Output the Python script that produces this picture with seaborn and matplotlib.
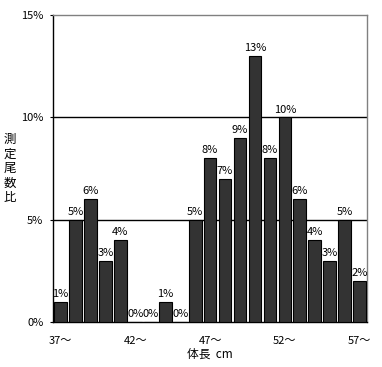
import numpy as np
import pandas as pd
import matplotlib
matplotlib.use("Agg")
import matplotlib.pyplot as plt
import seaborn as sns

sizes = [str(s) for s in range(37, 58)]
ratios = [1, 5, 6, 3, 4, 0, 0, 1, 0, 5, 8, 7, 9, 13, 8, 10, 6, 4, 3, 5, 2]
tick_labels = ["37～", "42～", "47～", "52～", "57～"]
y_ticks = [0, 5, 10, 15]

df = pd.DataFrame({"size": sizes, "ratio": ratios})

sns.set_style("white")
plt.rcParams['font.family'] = ['Noto Sans CJK JP', 'DejaVu Sans']
plt.rcParams['text.color'] = 'black'
plt.rcParams['axes.labelcolor'] = 'black'
plt.rcParams['xtick.color'] = 'black'
plt.rcParams['ytick.color'] = 'black'

fig = plt.figure(figsize=(3.82, 3.67), dpi=100)
ax = fig.add_axes([0.139, 0.1226, 0.822, 0.8365])

sns.barplot(data=df, x="size", y="ratio", color="#333333", saturation=1,
            edgecolor="black", linewidth=0.8, width=0.85, ax=ax, zorder=3)

for v in [5, 10]:
    ax.axhline(v, color="black", linewidth=1.0, zorder=1)

ax.bar_label(ax.containers[0], fmt="%d%%", fontsize=8, padding=2, color="black")

ax.set_xlim(-0.5, len(sizes) - 0.5)
ax.set_ylim(0, 15)
ax.set_yticks(y_ticks)
ax.set_yticklabels([f"{v}%" for v in y_ticks], fontsize=8)
ax.set_xticks([0, 5, 10, 15, 20])
ax.set_xticklabels(tick_labels, fontsize=8)
ax.set_xticks(np.arange(-0.5, len(sizes), 1), minor=True)
ax.tick_params(axis="x", which="major", length=0, pad=10)
ax.tick_params(axis="x", which="minor", length=3, direction="in", color="black")
ax.tick_params(axis="y", length=2, direction="out", left=True, color="black", pad=5)

for side in ["top", "right"]:
    ax.spines[side].set_color("#808080")
for side in ["left", "bottom"]:
    ax.spines[side].set_color("black")
for s in ax.spines.values():
    s.set_linewidth(1.0)

ax.set_xlabel("体長  cm", fontsize=8.5, labelpad=0)
ax.xaxis.set_label_coords(0.5, -0.085)
ax.set_ylabel("測\n定\n尾\n数\n比", fontsize=9, rotation=0, linespacing=1.15, va="center")
ax.yaxis.set_label_coords(-0.137, 0.5)

fig.savefig("out.png", dpi=100)
